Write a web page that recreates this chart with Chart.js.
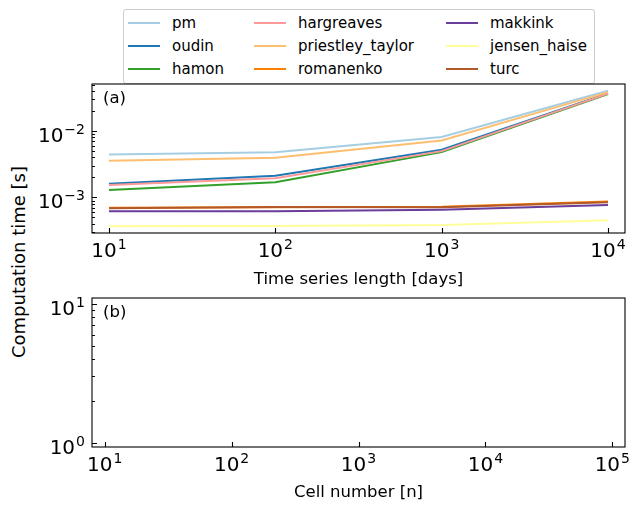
<!DOCTYPE html>
<html>
<head>
<meta charset="utf-8">
<script src="https://cdn.jsdelivr.net/npm/chart.js@4/dist/chart.umd.min.js"></script>
<style>
  body { margin: 0; width: 639px; height: 511px; overflow: hidden; background: #fff; position: relative; font-family: 'DejaVu Sans', sans-serif; }
  canvas { position: absolute; left: 0; }
  #legend { position: absolute; left: 123px; top: 9px; width: 470px; height: 73px; border: 1px solid #cccccc; border-radius: 3px; background: rgba(255,255,255,0.8); }
  .item { position: absolute; font-size: 15px; line-height: 18px; white-space: nowrap; color: #000; }
  .swatch { position: absolute; width: 32px; height: 2px; }
  #ylabel { position: absolute; left: 18px; top: 262px; transform: translate(-50%, -50%) rotate(-90deg); font-size: 18px; white-space: nowrap; }
</style>
</head>
<body>
<div id="legend"></div>
<div id="ylabel">Computation time [s]</div>
<canvas id="chart-a" width="639" height="290" style="top:0"></canvas>
<canvas id="chart-b" width="639" height="221" style="top:290px"></canvas>
<script>
// time series length [days]
const timeLength = [10, 100, 1000, 10000];

// computation time [s] per method
const pm = [0.00443, 0.00481, 0.00811, 0.0404];
const oudin = [0.00161, 0.00213, 0.00523, 0.0369];
const hamon = [0.00129, 0.00169, 0.00481, 0.0360];
const hargreaves = [0.00154, 0.00195, 0.00498, 0.0366];
const priestley_taylor = [0.00356, 0.00395, 0.00722, 0.0385];
const romanenko = [0.000698, 0.000711, 0.000723, 0.000869];
const makkink = [0.000622, 0.000618, 0.000652, 0.000767];
const jensen_haise = [0.000369, 0.000373, 0.000385, 0.000455];
const turc = [0.000690, 0.000720, 0.000714, 0.000845];

const methodNames = ['pm', 'oudin', 'hamon', 'hargreaves', 'priestley_taylor', 'romanenko', 'makkink', 'jensen_haise', 'turc'];
const methodValues = [pm, oudin, hamon, hargreaves, priestley_taylor, romanenko, makkink, jensen_haise, turc];
const methodColors = ['#a6cee3', '#1f78b4', '#33a02c', '#fb9a99', '#fdbf6f', '#ff7f00', '#6a3d9a', '#ffff99', '#b15928'];

// tick values
const xTicksA = [10, 100, 1000, 10000];
const yTicksA = [0.001, 0.01];
const xTicksB = [10, 100, 1000, 10000, 100000];
const yTicksB = [1, 10];

Chart.defaults.font.family = "'DejaVu Sans', sans-serif";
Chart.defaults.color = '#000';

function exponent(v) {
    return String(Math.round(Math.log10(v))).replace('-', '\u2212');
}

// legend, column-major like matplotlib
const legend = document.getElementById('legend');
const colX = [4, 130, 322];
const rowY = [13, 36, 59];
methodNames.forEach((name, i) => {
    const col = Math.floor(i / 3), row = i % 3;
    const sw = document.createElement('div');
    sw.className = 'swatch';
    sw.style.background = methodColors[i];
    sw.style.left = colX[col] + 'px';
    sw.style.top = (rowY[row] - 1) + 'px';
    legend.appendChild(sw);
    const t = document.createElement('div');
    t.className = 'item';
    t.textContent = name;
    t.style.left = (colX[col] + 44) + 'px';
    t.style.top = (rowY[row] - 9) + 'px';
    legend.appendChild(t);
});

// draws 10^n with a raised smaller exponent
function drawPow(ctx, v, x, y, align) {
    const base = '10', ex = exponent(v);
    ctx.font = "20px 'DejaVu Sans'";
    const wb = ctx.measureText(base).width;
    ctx.font = "14px 'DejaVu Sans'";
    const we = ctx.measureText(ex).width;
    const w = wb + we + 1;
    let x0 = align === 'center' ? x - w / 2 : x - w;
    ctx.textAlign = 'left';
    ctx.textBaseline = 'alphabetic';
    ctx.font = "20px 'DejaVu Sans'";
    ctx.fillText(base, x0, y);
    ctx.font = "14px 'DejaVu Sans'";
    ctx.fillText(ex, x0 + wb + 1, y - 8);
}

// box, inward tick marks, tick labels and panel letter
const framePlugin = {
    id: 'frame',
    afterDatasetsDraw(chart, args, opts) {
        const { ctx, chartArea: a } = chart;
        const xs = chart.scales.x, ys = chart.scales.y;
        ctx.save();
        ctx.strokeStyle = '#000';
        ctx.lineWidth = 1.1;
        ctx.strokeRect(a.left, a.top, a.right - a.left, a.bottom - a.top);
        ctx.beginPath();
        opts.xTicks.forEach(v => {
            const px = Math.round(xs.getPixelForValue(v)) + 0.5;
            ctx.moveTo(px, a.bottom); ctx.lineTo(px, a.bottom - 5);
        });
        opts.yTicks.forEach(v => {
            const py = Math.round(ys.getPixelForValue(v)) + 0.5;
            ctx.moveTo(a.left, py); ctx.lineTo(a.left + 5, py);
        });
        const d0 = Math.floor(Math.log10(ys.min)), d1 = Math.ceil(Math.log10(ys.max));
        for (let d = d0; d <= d1; d++) {
            for (let k = 2; k <= 9; k++) {
                const v = k * Math.pow(10, d);
                if (v < ys.min || v > ys.max) continue;
                const py = Math.round(ys.getPixelForValue(v)) + 0.5;
                ctx.moveTo(a.left, py); ctx.lineTo(a.left + 3, py);
            }
        }
        ctx.stroke();
        ctx.fillStyle = '#000';
        opts.xTicks.forEach(v => drawPow(ctx, v, xs.getPixelForValue(v), a.bottom + 24, 'center'));
        opts.yTicks.forEach(v => drawPow(ctx, v, a.left - 7, ys.getPixelForValue(v) + 11, 'right'));
        ctx.font = "16.5px 'DejaVu Sans'";
        ctx.textAlign = 'left';
        ctx.textBaseline = 'middle';
        ctx.fillText(opts.label, a.left + 11, a.top + 15);
        ctx.restore();
    }
};

function logAxis(min, max, ticks, size, horizontal, title, titlePad) {
    return {
        type: 'logarithmic',
        min: min,
        max: max,
        afterBuildTicks: s => { s.ticks = ticks.map(v => ({ value: v })); },
        afterFit: s => { if (horizontal) s.height = size; else s.width = size; },
        grid: { display: false, drawTicks: false },
        border: { display: false },
        ticks: { display: false, autoSkip: false },
        title: title ? { display: true, text: title, font: { size: 16.5 }, padding: { top: 0, bottom: titlePad } } : { display: false }
    };
}

const datasets = methodNames.map((name, i) => ({
    label: name,
    data: timeLength.map((x, j) => ({ x: x, y: methodValues[i][j] })),
    borderColor: methodColors[i],
    backgroundColor: methodColors[i],
    borderWidth: 2,
    pointRadius: 0,
    tension: 0,
    fill: false,
    order: methodNames.length - i
}));

new Chart(document.getElementById('chart-a'), {
    type: 'line',
    data: { datasets: datasets },
    options: {
        responsive: false,
        animation: false,
        devicePixelRatio: 1,
        layout: { padding: { left: 0, right: 14, top: 84, bottom: 0 } },
        plugins: {
            legend: { display: false },
            tooltip: { enabled: false },
            frame: { label: '(a)', xTicks: xTicksA, yTicks: yTicksA }
        },
        scales: {
            x: Object.assign(logAxis(Math.pow(10, 0.898), Math.pow(10, 4.102), xTicksA, 57, true, 'Time series length [days]', 0), { position: 'bottom' }),
            y: Object.assign(logAxis(Math.pow(10, -3.535), Math.pow(10, -1.292), yTicksA, 92, false), { position: 'left' })
        }
    },
    plugins: [framePlugin]
});

new Chart(document.getElementById('chart-b'), {
    type: 'line',
    data: { datasets: [] },
    options: {
        responsive: false,
        animation: false,
        devicePixelRatio: 1,
        layout: { padding: { left: 0, right: 14, top: 8, bottom: 0 } },
        plugins: {
            legend: { display: false },
            tooltip: { enabled: false },
            frame: { label: '(b)', xTicks: xTicksB, yTicks: yTicksB }
        },
        scales: {
            x: Object.assign(logAxis(Math.pow(10, 0.9), Math.pow(10, 5.1), xTicksB, 64, true, 'Cell number [n]', 8), { position: 'bottom' }),
            y: Object.assign(logAxis(0.93, 11.05, yTicksB, 92, false), { position: 'left' })
        }
    },
    plugins: [framePlugin]
});
</script>
</body>
</html>
